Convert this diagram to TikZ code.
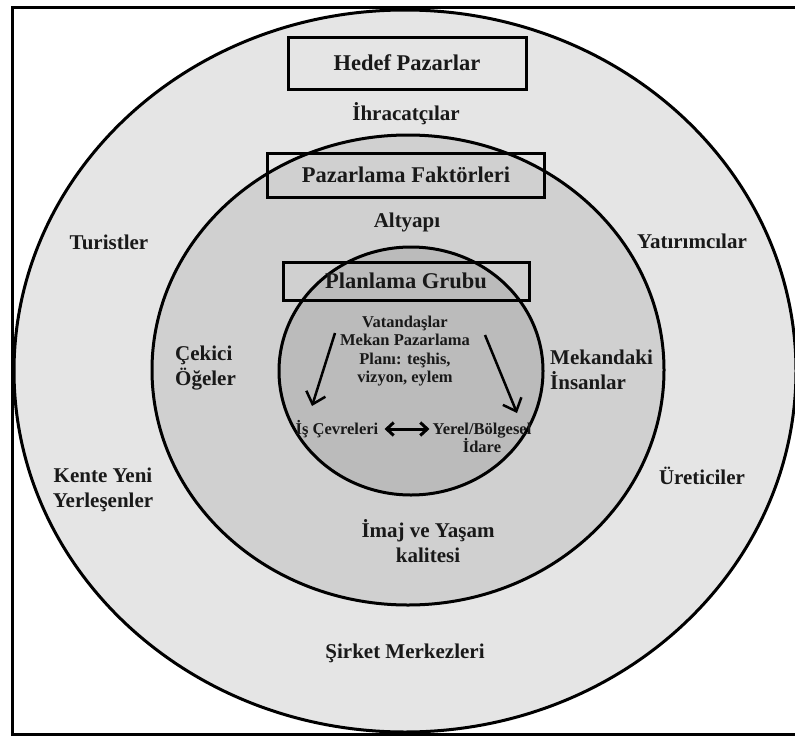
\documentclass[tikz,border=0pt]{standalone}
\usepackage{fontspec}
\setmainfont{Liberation Serif}
\usepackage{tikz}
\usetikzlibrary{arrows.meta}

\definecolor{ringout}{gray}{0.9}
\definecolor{ringmid}{gray}{0.815}
\definecolor{ringin}{gray}{0.735}
\definecolor{ink}{gray}{0.1}

\begin{document}
\begin{tikzpicture}[x=1pt,y=-1pt,
		lbl/.style={text=ink,font=\bfseries\fontsize{21}{25}\selectfont,inner sep=0pt},
		smalllbl/.style={text=ink,font=\bfseries\fontsize{16.5}{18.5}\selectfont,inner sep=0pt},
		framebox/.style={text=ink,font=\bfseries\fontsize{22.5}{26}\selectfont,draw=black,line width=3pt,inner sep=0pt},
		ring/.style={draw=black,line width=3pt}]
			\useasboundingbox (0,0) rectangle (795,736);
			\clip (0,0) rectangle (795,736);
			\fill[white] (0,0) rectangle (795,736);
			\draw[line width=3pt] (810,7) -- (12,7) -- (12,734) -- (810,734);
			
			% rings
			
			\filldraw[ring,fill=ringout] (405,371) ellipse [x radius=391, y radius=361];
			\filldraw[ring,fill=ringmid] (408,370) ellipse [x radius=256, y radius=235];
			\filldraw[ring,fill=ringin] (411,371) ellipse [x radius=132, y radius=124];
			
			% outer ring
			
			\node[framebox,minimum width=238pt,minimum height=52pt] (hedef) at (407,63) {Hedef Pazarlar};
			\node[lbl] (ihrac) at (406,114) {İhracatçılar};
			\node[lbl] (turist) at (109,242) {Turistler};
			\node[lbl] (yatirim) at (692,241) {Yatırımcılar};
			\node[lbl,align=center] (kente) at (103,490) {Kente Yeni\\Yerleşenler};
			\node[lbl] (uretici) at (702,476) {Üreticiler};
			\node[lbl] (sirket) at (405,653) {Şirket Merkezleri};
			
			% middle ring
			
			\node[framebox,minimum width=277pt,minimum height=44pt] (pazfak) at (406,175) {Pazarlama Faktörleri};
			\node[lbl] (altyapi) at (407,222) {Altyapı};
			\node[lbl,align=left,anchor=west] (cekici) at (175,368) {Çekici\\Öğeler};
			\node[lbl,align=left,anchor=west] (mekan) at (550,370) {Mekandaki\\İnsanlar};
			\node[lbl,align=center] (imaj) at (428,541) {İmaj ve Yaşam\\kalitesi};
			
			% inner ring
			
			\node[framebox,minimum width=246pt,minimum height=38pt] (plan) at (406,281) {Planlama Grubu};
			\node[smalllbl,align=center] (vatan) at (405,351) {Vatandaşlar\\Mekan Pazarlama\\Planı: teşhis,\\vizyon, eylem};
			\node[smalllbl] (is) at (337,429) {İş Çevreleri};
			\node[smalllbl,align=center] (yerel) at (482,438) {Yerel/Bölgesel\\İdare};
			
			\coordinate (la) at (335,333);
			\coordinate (lb) at (312,406);
			\coordinate (ra) at (485,335);
			\coordinate (rb) at (517,413);
			\draw[line width=2.5pt,-{Straight Barb[length=11pt,width=20pt]}] (la) -- (lb);
			\draw[line width=2.5pt,-{Straight Barb[length=11pt,width=20pt]}] (ra) -- (rb);
			\draw[line width=3pt,{Straight Barb[length=7pt,width=13pt]}-{Straight Barb[length=7pt,width=13pt]}] ([xshift=6pt]is.east) -- ([xshift=-3pt]is.east -| yerel.west);
		\end{tikzpicture}
\end{document}
